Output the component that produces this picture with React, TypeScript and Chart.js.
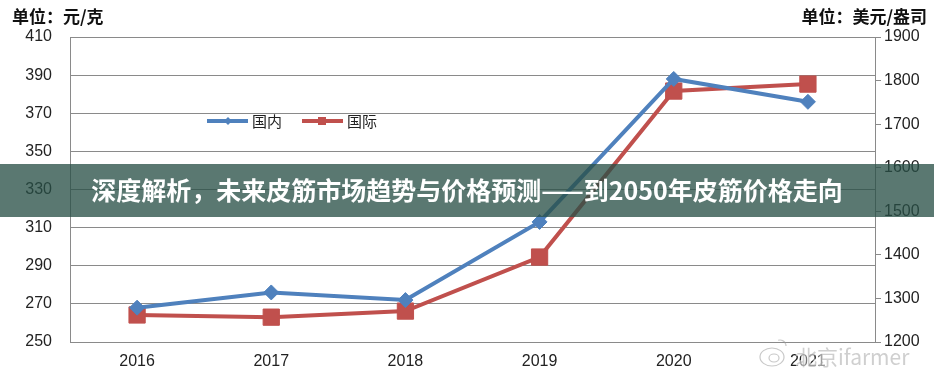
import React, { useEffect, useRef } from "react";
import { Chart, registerables } from "chart.js";

Chart.register(...registerables);

const years = ["2016", "2017", "2018", "2019", "2020", "2021"];
const domestic = [268, 276, 272, 313, 388, 376]; // 元/克
const international = [1262, 1257, 1271, 1395, 1776, 1792]; // 美元/盎司
const domesticLabel = "国内";
const internationalLabel = "国际";
const leftUnit = "单位：元/克";
const rightUnit = "单位：美元/盎司";
const bannerTitle = "深度解析，未来皮筋市场趋势与价格预测——到2050年皮筋价格走向";
const watermark = "北京ifarmer";

const BLUE = "#4f81bd";
const RED = "#c0504d";
const GRID = "#8a8a8a";
const TICK_FONT = { family: "'Liberation Sans', Arial, sans-serif", size: 16 };

const overlayPlugin = {
  id: "overlay",
  afterDatasetsDraw(chart: any) {
    const ctx = chart.ctx as CanvasRenderingContext2D;
    ctx.save();
    // units
    ctx.fillStyle = "#111";
    ctx.font = "bold 17px 'Noto Sans CJK SC', sans-serif";
    ctx.textBaseline = "middle";
    ctx.textAlign = "left";
    ctx.fillText(leftUnit, 12, 17);
    ctx.textAlign = "right";
    ctx.fillText(rightUnit, 927, 17);

    // legend
    const ly = 121;
    ctx.lineWidth = 4;
    ctx.strokeStyle = BLUE;
    ctx.beginPath();
    ctx.moveTo(207, ly);
    ctx.lineTo(248, ly);
    ctx.stroke();
    ctx.fillStyle = BLUE;
    ctx.beginPath();
    ctx.moveTo(228, ly - 4);
    ctx.lineTo(232, ly);
    ctx.lineTo(228, ly + 4);
    ctx.lineTo(224, ly);
    ctx.closePath();
    ctx.fill();
    ctx.strokeStyle = RED;
    ctx.beginPath();
    ctx.moveTo(302, ly);
    ctx.lineTo(343, ly);
    ctx.stroke();
    ctx.fillStyle = RED;
    ctx.fillRect(318, ly - 4, 8, 8);
    ctx.fillStyle = "#222";
    ctx.font = "15px 'Noto Sans CJK SC', sans-serif";
    ctx.textAlign = "left";
    ctx.fillText(domesticLabel, 252, ly);
    ctx.fillText(internationalLabel, 347, ly);
    ctx.restore();
  },
  afterDraw(chart: any) {
    const ctx = chart.ctx as CanvasRenderingContext2D;
    ctx.save();
    // banner
    ctx.fillStyle = "rgba(40,80,70,0.77)";
    ctx.fillRect(0, 164, 934, 53);
    ctx.fillStyle = "#ffffff";
    ctx.font = "bold 25px 'Noto Sans CJK SC', sans-serif";
    ctx.textAlign = "center";
    ctx.textBaseline = "middle";
    ctx.fillText(bannerTitle, 467, 190);

    // watermark
    ctx.globalAlpha = 0.55;
    ctx.strokeStyle = "#9a9a9a";
    ctx.lineWidth = 1.2;
    ctx.beginPath();
    ctx.ellipse(772, 357, 12, 9, 0, 0, Math.PI * 2);
    ctx.stroke();
    ctx.beginPath();
    ctx.ellipse(774, 358, 5, 4, 0, 0, Math.PI * 2);
    ctx.stroke();
    ctx.beginPath();
    ctx.arc(780, 346, 6, -Math.PI * 0.6, 0);
    ctx.stroke();
    ctx.font = "21px 'Noto Sans CJK SC', sans-serif";
    ctx.textAlign = "left";
    ctx.lineWidth = 3;
    ctx.strokeStyle = "#ffffff";
    ctx.strokeText(watermark, 796, 357);
    ctx.fillStyle = "#a8a8a8";
    ctx.fillText(watermark, 796, 357);
    ctx.restore();
  },
};

export default function App() {
  const ref = useRef<HTMLCanvasElement | null>(null);
  useEffect(() => {
    if (!ref.current) return;
    const chart = new Chart(ref.current, {
      type: "line",
      data: {
        labels: years,
        datasets: [
          {
            label: domesticLabel,
            data: domestic,
            yAxisID: "y",
            borderColor: BLUE,
            backgroundColor: BLUE,
            borderWidth: 4,
            pointStyle: "rectRot",
            pointRadius: 7.5,
            pointBorderWidth: 1,
            tension: 0,
          },
          {
            label: internationalLabel,
            data: international,
            yAxisID: "y1",
            borderColor: RED,
            backgroundColor: RED,
            borderWidth: 4,
            pointStyle: "rect",
            pointRadius: 11.5,
            pointBorderWidth: 1,
            tension: 0,
          },
        ],
      },
      options: {
        animation: false,
        responsive: true,
        maintainAspectRatio: false,
        layout: { padding: { top: 37, left: 0, right: 0, bottom: 0 } },
        plugins: { legend: { display: false }, tooltip: { enabled: false } },
        scales: {
          x: {
            offset: true,
            grid: { display: false, drawTicks: false },
            border: { display: true, color: GRID, width: 1 },
            ticks: { color: "#222", font: TICK_FONT, padding: 10 },
            afterFit: (s: any) => {
              s.height = 41;
            },
          },
          y: {
            position: "left",
            min: 250,
            max: 410,
            ticks: { stepSize: 20, color: "#222", font: TICK_FONT, padding: 18, callback: (v: any) => String(v) },
            grid: { color: GRID, drawTicks: false, lineWidth: 1 },
            border: { display: true, color: GRID, width: 1 },
            afterFit: (s: any) => {
              s.width = 70;
            },
          },
          y1: {
            position: "right",
            min: 1200,
            max: 1900,
            ticks: { stepSize: 100, color: "#222", font: TICK_FONT, padding: 3, callback: (v: any) => String(v) },
            grid: { color: GRID, drawOnChartArea: false, drawTicks: true, tickLength: 6 },
            border: { display: true, color: GRID, width: 1 },
            afterFit: (s: any) => {
              s.width = 59;
            },
          },
        },
      },
      plugins: [overlayPlugin],
    });
    return () => chart.destroy();
  }, []);
  return (
    <div style={{ position: "absolute", left: 0, top: 0, width: 934, height: 383, background: "#fff" }}>
      <canvas ref={ref} />
    </div>
  );
}
